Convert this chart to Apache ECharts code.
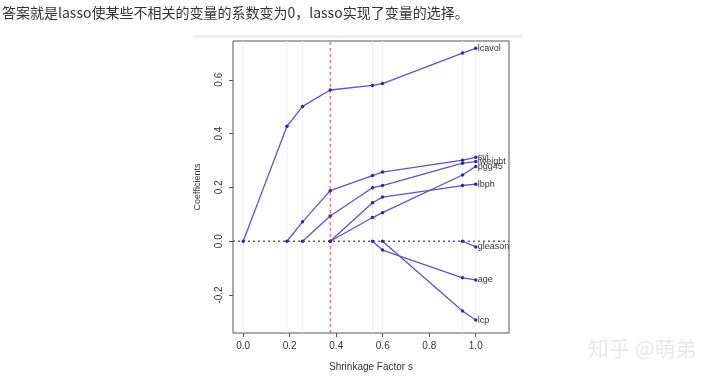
<!DOCTYPE html>
<html><head><meta charset="utf-8">
<script src="https://cdn.jsdelivr.net/npm/echarts@6/dist/echarts.min.js"></script>
<style>html,body{margin:0;padding:0;background:#fff}#c{width:720px;height:380px}</style>
</head><body><div id="c"></div>
<script>
const shrinkage = [0, 0.188, 0.255, 0.374, 0.556, 0.599, 0.943, 1.0];
const lcavol  = [0, 0.427, 0.501, 0.562, 0.579, 0.586, 0.699, 0.717];
const svi     = [null, 0, 0.072, 0.188, 0.244, 0.257, 0.301, 0.312];
const lweight = [null, null, 0, 0.094, 0.199, 0.207, 0.290, 0.296];
const pgg45   = [null, null, null, 0, 0.088, 0.106, 0.246, 0.278];
const lbph    = [null, null, null, 0, 0.143, 0.164, 0.207, 0.212];
const age     = [null, null, null, null, 0, -0.033, -0.136, -0.144];
const lcp     = [null, null, null, null, null, 0, -0.259, -0.293];
const gleason = [null, null, null, null, null, null, 0, -0.021];
const seriesNames = ['lcavol','svi','lweight','pgg45','lbph','age','lcp','gleason'];
const seriesValues = [lcavol, svi, lweight, pgg45, lbph, age, lcp, gleason];
const chosenS = 0.374;
const xRange = [-0.044, 1.143];
const yRange = [-0.341, 0.744];
const xTicks = [0, 0.2, 0.4, 0.6, 0.8, 1.0];
const yTicks = [-0.2, 0, 0.2, 0.4, 0.6];
const headline = '答案就是lasso使某些不相关的变量的系数变为0，lasso实现了变量的选择。';
const watermark = '知乎 @萌弟';

const chart = echarts.init(document.getElementById('c'));
const series = seriesNames.map((name, k) => ({
  name, type: 'line',
  data: shrinkage.map((s, i) => seriesValues[k][i] == null ? null : [s, seriesValues[k][i]]).filter(d => d),
  symbol: 'circle', symbolSize: 3.5,
  itemStyle: { color: '#2a2aa8' },
  lineStyle: { color: '#5a55cc', width: 1.3 },
  z: 5,
  animation: false,
  endLabel: { show: true, formatter: '{a}', color: '#333', fontSize: 9, fontFamily: 'Liberation Sans, Arial', distance: 2 }
}));
function refLine(data, color, width, type, z) {
  return { type: 'line', data, symbol: 'none', silent: true, z, animation: false,
           lineStyle: { color, width, type }, itemStyle: { color } };
}
shrinkage.filter(s => s !== chosenS).forEach(s => series.unshift(refLine([[s, yRange[0]], [s, yRange[1]]], '#efeff4', 1, 'solid', 1)));
series.unshift(refLine([[xRange[0], 0], [xRange[1], 0]], '#666', 1.3, [2, 3], 2));
series.unshift(refLine([[chosenS, yRange[0]], [chosenS, yRange[1]]], '#e04848', 1, [3, 3], 3));

chart.setOption({
  animation: false,
  backgroundColor: '#fff',
  grid: { left: 233, top: 41, right: 211, bottom: 47, show: true, borderColor: '#555', borderWidth: 1, backgroundColor: 'transparent' },
  xAxis: {
    type: 'value', min: xRange[0], max: xRange[1],
    name: 'Shrinkage Factor s', nameLocation: 'middle', nameGap: 29,
    nameTextStyle: { color: '#333', fontSize: 10, fontFamily: 'Liberation Sans, Arial' },
    axisLine: { show: false, onZero: false },
    axisTick: { show: true, inside: false, length: 4, lineStyle: { color: '#555' }, customValues: xTicks },
    axisLabel: { color: '#333', fontSize: 10, margin: 8, fontFamily: 'Liberation Sans, Arial', customValues: xTicks, formatter: v => v.toFixed(1) },
    splitLine: { show: false }
  },
  yAxis: {
    type: 'value', min: yRange[0], max: yRange[1],
    name: 'Coefficients', nameLocation: 'middle', nameGap: 31, nameRotate: 90,
    nameTextStyle: { color: '#333', fontSize: 9, fontFamily: 'Liberation Sans, Arial' },
    axisLine: { show: false, onZero: false },
    axisTick: { show: true, inside: false, length: 4, lineStyle: { color: '#555' }, customValues: yTicks },
    axisLabel: { color: '#333', fontSize: 10, rotate: 90, margin: 9, fontFamily: 'Liberation Sans, Arial', customValues: yTicks, formatter: v => v.toFixed(1) },
    splitLine: { show: false }
  },
  graphic: [
    { type: 'text', left: 2, top: 6, style: { text: headline, fill: '#333', font: '14px "Noto Sans CJK SC"' } },
    { type: 'rect', shape: { x: 193, y: 35, width: 330, height: 3 }, style: { fill: '#efefef' }, silent: true },
    { type: 'text', left: 588, top: 338, style: { text: watermark, fill: '#e8e8e8', font: '21px "Noto Sans CJK SC"', textShadowColor: 'rgba(0,0,0,0.08)', textShadowOffsetX: 1, textShadowOffsetY: 1, textShadowBlur: 0 } }
  ],
  series
});
</script></body></html>
